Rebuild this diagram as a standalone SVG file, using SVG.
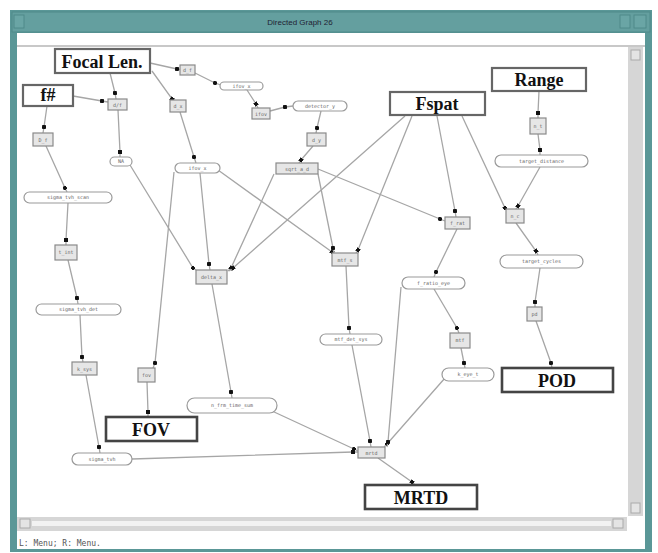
<svg xmlns="http://www.w3.org/2000/svg" width="658" height="553" viewBox="0 0 658 553">
<style>
.edge{fill:none;stroke:#a6a6a6;stroke-width:1.3;marker-mid:url(#ah)}
.big rect{fill:#fff;stroke:#666;stroke-width:2.2}
.big text{font-family:"Liberation Serif",serif;font-weight:bold;font-size:18px;fill:#111;text-anchor:middle}
.out rect{stroke:#444;stroke-width:2.6}
.sm rect{fill:#e6e6e6;stroke:#8a8a8a;stroke-width:1.2}
.ov rect{fill:#fff;stroke:#9a9a9a;stroke-width:1.2}
.sm text,.ov text{font-family:"DejaVu Sans Mono",monospace;font-size:5px;fill:#666;text-anchor:middle}
</style>
<defs>
<marker id="ah" viewBox="0 0 4 4" refX="2" refY="2" markerWidth="4" markerHeight="4" markerUnits="userSpaceOnUse" orient="auto"><rect width="4" height="4" fill="#111"/></marker>
</defs>
<rect width="658" height="553" fill="#fff"/>
<!-- window frame -->
<g id="window">
<rect x="10" y="10" width="642" height="542" fill="#5a9797"/>
<rect x="12" y="12" width="638" height="20" fill="#649f9f" stroke="#4f8a8a"/>
<rect x="14" y="15" width="10" height="13" fill="#6aa5a5" stroke="#4f8a8a"/>
<rect x="620" y="15" width="10" height="13" fill="#6aa5a5" stroke="#4f8a8a"/>
<rect x="634" y="15" width="12" height="13" fill="#6aa5a5" stroke="#4f8a8a"/>
<text x="300" y="25" font-family="Liberation Sans,sans-serif" font-size="8" fill="#223" text-anchor="middle">Directed Graph 26</text>
<rect x="17" y="33" width="628" height="516" fill="#fff"/>
<rect x="17" y="45" width="628" height="2" fill="#c8c8c8"/>
<rect x="628" y="47" width="15" height="469" fill="#d6d6d6"/>
<rect x="631" y="50" width="9" height="10" fill="#e4e4e4" stroke="#aaa"/>
<rect x="631" y="503" width="9" height="10" fill="#e4e4e4" stroke="#aaa"/>
<rect x="17" y="517" width="610" height="14" fill="#d6d6d6"/>
<rect x="20" y="519" width="10" height="9" fill="#e4e4e4" stroke="#aaa"/>
<rect x="613" y="519" width="10" height="9" fill="#e4e4e4" stroke="#aaa"/>
<rect x="32" y="521" width="579" height="5" fill="#f2f2f2"/>
<text x="19" y="546" font-family="DejaVu Sans Mono,monospace" font-size="8" fill="#555">L: Menu; R: Menu.</text>
</g>
<g id="edges">
<path class="edge" d="M150,63 L177,69 L180,69.5"/>
<path class="edge" d="M195,73 L215,83 L221,85"/>
<path class="edge" d="M247,90 L256,104 L258,108"/>
<path class="edge" d="M270,111 L285,107 L293,106"/>
<path class="edge" d="M321,111 L317,128 L316,133"/>
<path class="edge" d="M313,146 L301,160 L299,163"/>
<path class="edge" d="M110,73 L115,93 L116,99"/>
<path class="edge" d="M73,96 L102,101 L108,102"/>
<path class="edge" d="M152,71 L172,99 L175,100"/>
<path class="edge" d="M47,106 L44,127 L43,133"/>
<path class="edge" d="M118,110 L120,152 L120,157"/>
<path class="edge" d="M180,112 L194,157 L196,163"/>
<path class="edge" d="M46,146 L65,188 L67,192"/>
<path class="edge" d="M68,203 L66,240 L66,245"/>
<path class="edge" d="M68,260 L77,298 L78,304"/>
<path class="edge" d="M80,315 L82,357 L83,362"/>
<path class="edge" d="M86,375 L99,447 L100,453"/>
<path class="edge" d="M132,459 L353,452 L358,452"/>
<path class="edge" d="M130,165 L193,268 L196,270"/>
<path class="edge" d="M200,173 L209,264 L210,270"/>
<path class="edge" d="M174,172 L155,363 L153,368"/>
<path class="edge" d="M147,382 L148,412 L148,417"/>
<path class="edge" d="M218,170 L332,252 L335,254"/>
<path class="edge" d="M274,174 L231,268 L228,271"/>
<path class="edge" d="M405,116 L233,268 L229,271"/>
<path class="edge" d="M318,174 L333,248 L334,253"/>
<path class="edge" d="M318,169 L440,219 L445,221"/>
<path class="edge" d="M412,116 L358,250 L356,253"/>
<path class="edge" d="M437,116 L455,211 L456,217"/>
<path class="edge" d="M462,116 L505,208 L508,210"/>
<path class="edge" d="M539,91 L538,113 L538,118"/>
<path class="edge" d="M538,134 L540,150 L540,155"/>
<path class="edge" d="M540,167 L518,206 L516,209"/>
<path class="edge" d="M516,223 L536,251 L538,255"/>
<path class="edge" d="M540,268 L535,302 L535,307"/>
<path class="edge" d="M536,321 L551,363 L552,368"/>
<path class="edge" d="M457,229 L436,272 L434,277"/>
<path class="edge" d="M434,289 L457,328 L459,333"/>
<path class="edge" d="M461,348 L464,363 L465,368"/>
<path class="edge" d="M445,378 L387,444 L384,447"/>
<path class="edge" d="M401,287 L388,442 L387,447"/>
<path class="edge" d="M346,266 L349,328 L350,334"/>
<path class="edge" d="M352,345 L370,441 L371,447"/>
<path class="edge" d="M212,284 L231,392 L232,398"/>
<path class="edge" d="M272,411 L354,449 L358,451"/>
<path class="edge" d="M378,458 L412,482 L415,485"/>
</g>
<!-- big nodes -->
<g id="focal" class="big"><rect x="55" y="49" width="95" height="24"/><text x="102" y="68">Focal Len.</text></g>
<g id="fnum" class="big"><rect x="23" y="85" width="50" height="21"/><text x="48" y="101">f#</text></g>
<g id="fspat" class="big"><rect x="390" y="92" width="95" height="23"/><text x="437" y="110">Fspat</text></g>
<g id="range" class="big"><rect x="492" y="68" width="94" height="23"/><text x="539" y="86">Range</text></g>
<g id="fov" class="big out"><rect x="106" y="417" width="91" height="24"/><text x="151" y="436">FOV</text></g>
<g id="pod" class="big out"><rect x="502" y="368" width="111" height="24"/><text x="557" y="387">POD</text></g>
<g id="mrtd" class="big out"><rect x="365" y="485" width="112" height="24"/><text x="421" y="504">MRTD</text></g>
<!-- small rect nodes -->
<g id="n1" class="sm"><rect x="180" y="65" width="15" height="10"/><text x="187.5" y="72">d_f</text></g>
<g id="n3" class="sm"><rect x="252" y="108" width="18" height="11"/><text x="261" y="115.5">ifov</text></g>
<g id="n5" class="sm"><rect x="307" y="133" width="19" height="13"/><text x="316.5" y="141.5">d_y</text></g>
<g id="n6" class="sm"><rect x="276" y="163" width="42" height="11"/><text x="297" y="170.5">sqrt_a_d</text></g>
<g id="n7" class="sm"><rect x="108" y="99" width="19" height="11"/><text x="117.5" y="106.5">d/f</text></g>
<g id="n8" class="sm"><rect x="170" y="100" width="16" height="12"/><text x="178" y="108">d_x</text></g>
<g id="n9" class="sm"><rect x="33" y="133" width="20" height="13"/><text x="43" y="141.5">D_f</text></g>
<g id="n13" class="sm"><rect x="55" y="245" width="22" height="15"/><text x="66" y="254">t_int</text></g>
<g id="n15" class="sm"><rect x="72" y="362" width="25" height="13"/><text x="84.5" y="370.5">k_sys</text></g>
<g id="n16" class="sm"><rect x="138" y="368" width="17" height="14"/><text x="146.5" y="377">fov</text></g>
<g id="n18" class="sm"><rect x="196" y="270" width="31" height="14"/><text x="211.5" y="279">delta_x</text></g>
<g id="n19" class="sm"><rect x="332" y="253" width="26" height="13"/><text x="345" y="261.5">mtf_s</text></g>
<g id="n20" class="sm"><rect x="445" y="217" width="25" height="12"/><text x="457.5" y="225">f_rat</text></g>
<g id="n21" class="sm"><rect x="506" y="209" width="18" height="14"/><text x="515" y="218">n_c</text></g>
<g id="n24" class="sm"><rect x="527" y="307" width="15" height="14"/><text x="534.5" y="316">pd</text></g>
<g id="n25" class="sm"><rect x="450" y="333" width="20" height="15"/><text x="460" y="342">mtf</text></g>
<g id="n29" class="sm"><rect x="358" y="447" width="27" height="11"/><text x="371.5" y="454.5">mrtd</text></g>
<g id="n30" class="sm"><rect x="530" y="118" width="16" height="16"/><text x="538" y="128">n_t</text></g>
<!-- oval nodes -->
<g id="o2" class="ov"><rect x="220" y="82" width="43" height="8" rx="4"/><text x="241.5" y="88">ifov_x</text></g>
<g id="o4" class="ov"><rect x="293" y="101" width="54" height="10" rx="5"/><text x="320" y="107.5">detector_y</text></g>
<g id="o10" class="ov"><rect x="110" y="157" width="22" height="9" rx="4.5"/><text x="121" y="163">NA</text></g>
<g id="o11" class="ov"><rect x="175" y="163" width="45" height="10" rx="5"/><text x="197.5" y="169.5">ifov_x</text></g>
<g id="o12" class="ov"><rect x="24" y="192" width="88" height="11" rx="5.5"/><text x="68" y="199">sigma_tvh_scan</text></g>
<g id="o14" class="ov"><rect x="36" y="304" width="85" height="11" rx="5.5"/><text x="78.5" y="311">sigma_tvh_det</text></g>
<g id="o17" class="ov"><rect x="72" y="453" width="60" height="12" rx="6"/><text x="102" y="460.5">sigma_tvh</text></g>
<g id="o22" class="ov"><rect x="500" y="255" width="83" height="13" rx="6.5"/><text x="541.5" y="263">target_cycles</text></g>
<g id="o23" class="ov"><rect x="402" y="277" width="63" height="12" rx="6"/><text x="433.5" y="284.5">f_ratio_eye</text></g>
<g id="o26" class="ov"><rect x="320" y="334" width="62" height="11" rx="5.5"/><text x="351" y="341">mtf_det_sys</text></g>
<g id="o27" class="ov"><rect x="442" y="368" width="52" height="13" rx="6.5"/><text x="468" y="376">k_eye_t</text></g>
<g id="o28" class="ov"><rect x="187" y="398" width="90" height="15" rx="7.5"/><text x="232" y="407">n_frm_time_sum</text></g>
<g id="o31" class="ov"><rect x="495" y="155" width="93" height="12" rx="6"/><text x="541.5" y="162.5">target_distance</text></g>
</svg>
